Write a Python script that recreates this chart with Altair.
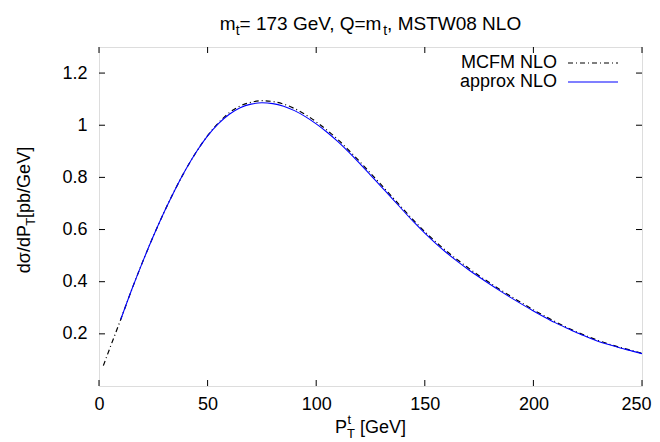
import altair as alt
import pandas as pd

# ---------------- data ----------------
pt_mcfm = [2, 5, 10, 15, 20, 25, 30, 35, 40, 45, 50, 55, 60, 65, 70, 75, 80, 85, 90, 95,
           100, 105, 110, 115, 120, 125, 130, 135, 140, 145, 150, 155, 160, 165, 170, 175,
           180, 185, 190, 195, 200, 205, 210, 215, 220, 225, 230, 235, 240, 245, 250]
mcfm_nlo = [0.078, 0.145,
            0.255, 0.368, 0.474, 0.574, 0.667, 0.753, 0.831, 0.900, 0.960,
            1.009, 1.048, 1.074, 1.088, 1.094, 1.091, 1.081, 1.064, 1.041, 1.013,
            0.981, 0.945, 0.904, 0.861, 0.816, 0.771, 0.725, 0.679, 0.634, 0.592,
            0.553, 0.517, 0.484, 0.453, 0.423, 0.395, 0.368, 0.342, 0.317, 0.292,
            0.269, 0.247, 0.226, 0.207, 0.190, 0.174, 0.160, 0.148, 0.137, 0.125]

pt_approx = [10, 15, 20, 25, 30, 35, 40, 45, 50, 55, 60, 65, 70, 75, 80, 85, 90, 95,
             100, 105, 110, 115, 120, 125, 130, 135, 140, 145, 150, 155, 160, 165, 170, 175,
             180, 185, 190, 195, 200, 205, 210, 215, 220, 225, 230, 235, 240, 245, 250]
approx_nlo = [0.255, 0.368, 0.474, 0.574, 0.667, 0.753, 0.831, 0.900, 0.959,
              1.006, 1.042, 1.067, 1.081, 1.086, 1.083, 1.073, 1.056, 1.033, 1.005,
              0.973, 0.937, 0.897, 0.854, 0.809, 0.764, 0.719, 0.673, 0.628, 0.586,
              0.547, 0.511, 0.478, 0.447, 0.418, 0.390, 0.363, 0.337, 0.312, 0.288,
              0.265, 0.243, 0.223, 0.204, 0.187, 0.171, 0.158, 0.146, 0.135, 0.124]

x_ticks = [0, 50, 100, 150, 200, 250]
y_ticks = [0.2, 0.4, 0.6, 0.8, 1.0, 1.2]
legend_labels = ["MCFM NLO", "approx NLO"]

# ---------------- layout ----------------
W, H = 543, 339
FONT = "Liberation Sans"
F, S = 18, 13
FT, ST = 19, 14
TICK = 6

# Arial / Liberation Sans advance widths (per 1000 em)
AW = {'m': 833, 't': 278, '=': 584, ' ': 278, '1': 556, '7': 556, '3': 556, 'G': 778,
      'e': 556, 'V': 667, ',': 278, 'Q': 778, 'M': 833, 'S': 667, 'T': 611, 'W': 944,
      '0': 556, '8': 556, 'N': 722, 'L': 556, 'O': 778, 'P': 667, '[': 278, ']': 278,
      'd': 556, 'σ': 570, '/': 278, 'p': 556, 'b': 556}


def tw(s, size):
    return sum(AW.get(c, 556) for c in s) * size / 1000.0


def text_piece(txt, x, y, size, angle=0, align="left", baseline="alphabetic"):
    kw = dict(align=align, baseline=baseline, fontSize=size, font=FONT, color="black")
    if angle:
        kw["angle"] = angle
    return alt.Chart(pd.DataFrame({"t": [txt]})).mark_text(**kw).encode(
        text="t:N", x=alt.value(x), y=alt.value(y))


xs = alt.Scale(domain=[0, 250], nice=False, zero=False)
ys = alt.Scale(domain=[0, 1.3], nice=False, zero=False)

df_m = pd.DataFrame({"pt": pt_mcfm, "v": mcfm_nlo})
df_a = pd.DataFrame({"pt": pt_approx, "v": approx_nlo})

# the last label would cross the page edge: nudge it a few pixels inward
last_x = x_ticks[-1]
x_axis = alt.Axis(values=x_ticks, title=None, grid=False, domain=False, ticks=False,
                  labelFont=FONT, labelFontSize=F, labelColor="black", labelPadding=9,
                  format="d", labelFlush=False,
                  labelOffset={"condition": {"test": f"datum.value == {last_x}", "value": -6},
                               "value": 0})
y_axis = alt.Axis(values=y_ticks, title=None, grid=False, domain=False, ticks=False,
                  labelFont=FONT, labelFontSize=F, labelColor="black", labelPadding=12,
                  format="~g")

X = lambda f: alt.X(f, scale=xs, axis=x_axis)
Y = lambda f: alt.Y(f, scale=ys, axis=y_axis)

mcfm = alt.Chart(df_m).mark_line(color="black", strokeWidth=1.2, strokeDash=[5, 3, 1, 3],
                                 interpolate="monotone", clip=True).encode(
    x=X("pt:Q"), y=Y("v:Q"))

approx = alt.Chart(df_a).mark_line(color="#0000ff", strokeWidth=1.1,
                                   interpolate="monotone", clip=True).encode(
    x=X("pt:Q"), y=Y("v:Q"))

dfx = pd.DataFrame({"pt": x_ticks})
dfy = pd.DataFrame({"v": y_ticks})
tick_style = dict(color="black", strokeWidth=1)
xt_bot = alt.Chart(dfx).mark_rule(**tick_style).encode(
    x=X("pt:Q"), y=alt.value(H), y2=alt.value(H - TICK))
xt_top = alt.Chart(dfx).mark_rule(**tick_style).encode(
    x=X("pt:Q"), y=alt.value(0), y2=alt.value(TICK))
yt_left = alt.Chart(dfy).mark_rule(**tick_style).encode(
    y=Y("v:Q"), x=alt.value(0), x2=alt.value(TICK))
yt_right = alt.Chart(dfy).mark_rule(**tick_style).encode(
    y=Y("v:Q"), x=alt.value(W), x2=alt.value(W - TICK))

layers = [mcfm, approx, xt_bot, xt_top, yt_left, yt_right]

# ---------------- legend (inside, top right) ----------------
leg_text_x = 458
leg_line = (469, 519)
leg_y = [16, 35]
one = pd.DataFrame({"a": [0]})
layers.append(text_piece(legend_labels[0], leg_text_x, leg_y[0], F, align="right", baseline="middle"))
layers.append(text_piece(legend_labels[1], leg_text_x, leg_y[1], F, align="right", baseline="middle"))
layers.append(alt.Chart(one).mark_rule(color="black", strokeWidth=1.2, strokeDash=[5, 3, 1, 3]).encode(
    x=alt.value(leg_line[0]), x2=alt.value(leg_line[1]), y=alt.value(leg_y[0])))
layers.append(alt.Chart(one).mark_rule(color="#0000ff", strokeWidth=1.1).encode(
    x=alt.value(leg_line[0]), x2=alt.value(leg_line[1]), y=alt.value(leg_y[1])))

# ---------------- title: m_t= 173 GeV, Q=m_t, MSTW08 NLO ----------------
SUB = 5
title_pieces = [("m", FT, 0), ("t", ST, SUB), ("= 173 GeV, Q=m", FT, 0), ("t", ST, SUB),
                (", MSTW08 NLO", FT, 0)]
total = sum(tw(t, s) for t, s, _ in title_pieces)
cx = W / 2 - total / 2
ty = -17
for t, s, off in title_pieces:
    layers.append(text_piece(t, cx, ty + off, s))
    cx += tw(t, s)

# ---------------- x title: P_T^t [GeV] ----------------
xb = 386
w_p = tw("P", F)
w_sub = tw("T", S)
w_sp = tw(" ", F)
w_rest = tw("[GeV]", F)
total = w_p + w_sub + w_sp + w_rest
x0 = W / 2 - total / 2
layers.append(text_piece("P", x0, xb, F))
layers.append(text_piece("t", x0 + w_p + 0.5, xb - 9, S))
layers.append(text_piece("T", x0 + w_p, xb + SUB, S))
layers.append(text_piece("[GeV]", x0 + w_p + w_sub + w_sp, xb, F))

# ---------------- y title: dσ/dP_T[pb/GeV] (rotated) ----------------
yb_x = -69
y_pieces = [("dσ/dP", F, 0), ("T", S, SUB), ("[pb/GeV]", F, 0)]
total = sum(tw(t, s) for t, s, _ in y_pieces)
cy = 163 + total / 2
for t, s, off in y_pieces:
    layers.append(text_piece(t, yb_x + off, cy, s, angle=270))
    cy -= tw(t, s)

chart = alt.layer(*layers).properties(
    width=W, height=H,
    padding={"left": 91, "top": 39, "right": 10, "bottom": 55},
    autosize=alt.AutoSizeParams(type="none"),
).configure_view(stroke="black", strokeWidth=1).configure(background="white")

chart.save("out.html", embed_options={"renderer": "svg", "actions": False})
